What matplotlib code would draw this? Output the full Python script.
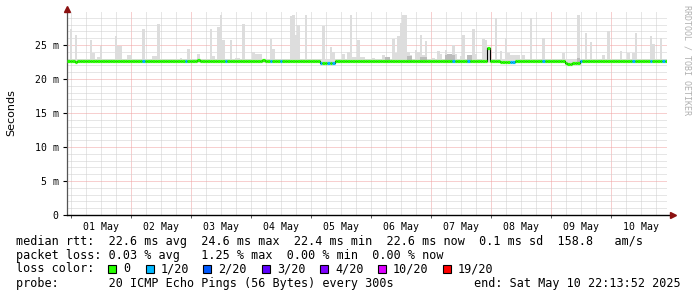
import numpy as np
import matplotlib
matplotlib.use('Agg')
from matplotlib import pyplot as plt

# time axis: 240 one-hour bins ending Sat May 10 22:13:52 2025
n_bins = 240
midnight_offset = 1 + 46 / 60 + 8 / 3600  # first midnight (01 May) after start, hours
day_labels = ['01 May', '02 May', '03 May', '04 May', '05 May',
              '06 May', '07 May', '08 May', '09 May', '10 May']

# smoke (max ping per bin), sparse: bins not listed sit at the base value
smoke_base_low = 22.3
smoke_base_high = 22.95
smoke_hours = [1, 3, 9, 10, 12, 13, 19, 20, 21, 24, 25, 30, 34, 35, 36, 45, 48, 52, 57, 58,
               60, 61, 62, 65, 67, 68, 70, 74, 75, 76, 77, 81, 82, 89, 90, 91, 92, 95, 102, 105,
               106, 110, 112, 113, 114, 115, 116, 117, 118, 122, 126, 130, 131, 132, 133, 134, 135, 136, 137, 139,
               140, 141, 142, 143, 146, 148, 149, 151, 152, 154, 155, 157, 158, 160, 162, 163, 166, 167, 168, 171,
               173, 175, 176, 177, 178, 179, 180, 182, 185, 190, 198, 204, 207, 209, 214, 216, 221, 224, 226, 227,
               233, 234, 237]
smoke_tops = [27.4, 26.5, 25.7, 23.9, 23.2, 24.9, 26.3, 24.9, 24.9, 23.5, 23.5, 27.4, 23.4, 23.4, 28.1, 23.1, 24.4, 23.7, 27.4, 23.4,
              27.6, 29.4, 25.7, 25.7, 23.1, 23.1, 28.1, 24.0, 23.7, 23.7, 23.7, 25.9, 24.4, 29.3, 29.4, 26.5, 27.9, 29.4, 27.8, 24.7,
              24.0, 23.7, 24.0, 29.4, 23.2, 23.2, 25.7, 23.2, 23.2, 23.1, 23.5, 25.9, 23.8, 26.3, 28.2, 29.4, 29.4, 24.0, 23.5, 24.3,
              24.0, 26.5, 23.5, 25.6, 23.1, 24.1, 23.7, 24.3, 23.7, 25.0, 23.7, 23.4, 26.5, 23.5, 27.4, 23.7, 25.9, 25.7, 24.7, 29.0,
              24.1, 26.0, 23.8, 23.5, 23.5, 23.5, 23.5, 23.5, 29.0, 26.0, 23.8, 29.4, 26.7, 25.4, 23.5, 27.1, 24.1, 23.8, 23.8, 26.8,
              26.3, 25.2, 26.0]

# denser smoke close to the median
dark_hours = [127, 128, 136, 137, 141, 142, 143, 151, 152, 153, 154, 160, 161, 204]
dark_tops = [23.2, 23.2, 23.4, 23.4, 23.3, 23.3, 23.3, 23.6, 23.7, 23.7, 23.5, 23.6, 23.6, 23.1]

# median rtt (ms), sparse deviations from the base value
median_base = 22.6
median_hours = [3, 52, 78, 101, 102, 103, 104, 105, 106, 168,
                173, 174, 175, 176, 177, 178, 199, 200, 201, 202, 203, 204]
median_vals = [22.45, 22.8, 22.8, 22.35, 22.3, 22.3, 22.35, 22.35, 22.4, 24.6,
               22.5, 22.5, 22.5, 22.5, 22.5, 22.5, 22.3, 22.25, 22.25, 22.3, 22.35, 22.4]

# bins with 1/20 packet loss
loss_hours = [30, 47, 63, 81, 85, 101, 104, 106, 154, 160, 177, 178, 190, 205, 226, 233, 238]

loss_labels = ['0', '1/20', '2/20', '3/20', '4/20', '10/20', '19/20']
loss_colors = ['#26ff00', '#00b8ff', '#0059ff', '#5e00ff', '#7e00ff', '#dd00ff', '#ff0000']

legend_lines = [
    'median rtt:  22.6 ms avg  24.6 ms max  22.4 ms min  22.6 ms now  0.1 ms sd  158.8   am/s',
    'packet loss: 0.03 % avg   1.25 % max  0.00 % min  0.00 % now',
]
probe_text = 'probe:       20 ICMP Echo Pings (56 Bytes) every 300s'
end_text = 'end: Sat May 10 22:13:52 2025'

# build per-bin arrays
hours = np.arange(n_bins)
smoke_hi = np.full(n_bins, smoke_base_high)
smoke_hi[smoke_hours] = smoke_tops
median = np.full(n_bins, median_base)
median[median_hours] = median_vals
colors = [loss_colors[0]] * n_bins
for h in loss_hours:
    colors[h] = loss_colors[1]

W, H = 697, 297
fig = plt.figure(figsize=(W / 100, H / 100), dpi=100)
ymax = 29.8
ax = fig.add_axes([67 / W, 82 / H, 600 / W, (215 - 12.4) / H])
ax.set_xlim(0, n_bins)
ax.set_ylim(0, ymax)

# grid
minor_grey = '#cfcfcf'
major_red = '#f0a0a0'
dots = (0, (1, 1))
for x in np.arange(midnight_offset - 6, n_bins + 1, 6):
    if x <= 0:
        continue
    is_day = abs((x - midnight_offset) % 24) < 1e-6
    ax.axvline(x, color=major_red if is_day else minor_grey, lw=0.72, ls=dots, zorder=0)
for y in range(1, 30):
    ax.axhline(y, color=major_red if y % 5 == 0 else minor_grey, lw=0.72, ls=dots, zorder=0)

# smoke
ax.bar(hours, smoke_hi - smoke_base_low, bottom=smoke_base_low, width=1, align='edge',
       color='#dddddd', linewidth=0, zorder=1)
ax.bar(dark_hours, np.array(dark_tops) - smoke_base_low, bottom=smoke_base_low, width=1,
       align='edge', color='#bcbcbc', linewidth=0, zorder=1)

# median line coloured by loss
ax.step(np.append(hours, n_bins), np.append(median, median[-1]), where='post',
        color='black', lw=0.8, zorder=2)
ax.hlines(median, hours, hours + 1, colors=colors, linewidth=2.3, capstyle='butt', zorder=3)

# axes styling
for s in ['top', 'right']:
    ax.spines[s].set_visible(False)
ax.spines['left'].set_color('#555555')
ax.spines['left'].set_linewidth(0.9)
ax.spines['bottom'].set_color('black')
ax.spines['bottom'].set_linewidth(1.0)
ax.spines['bottom'].set_bounds(0, n_bins + 1.2)
ax.plot([0], [ymax + 0.55], marker='^', color='#8b1010', markersize=4.5, clip_on=False, zorder=5)
ax.plot([n_bins + 2.2], [0], marker='>', color='#8b1010', markersize=4.5, clip_on=False, zorder=5)

mono = 'DejaVu Sans Mono'
ax.set_yticks([0, 5, 10, 15, 20, 25])
ax.set_yticklabels(['0', '5 m', '10 m', '15 m', '20 m', '25 m'], family=mono, fontsize=7.1)
ax.tick_params(axis='y', length=3, width=0.8, pad=3, colors='black')
ax.set_xticks([midnight_offset + 12 + 24 * i for i in range(len(day_labels))])
ax.set_xticklabels(day_labels, family=mono, fontsize=7.1)
ax.tick_params(axis='x', length=0, pad=5)
ax.set_xticks([midnight_offset + 24 * i for i in range(len(day_labels))], minor=True)
ax.tick_params(axis='x', which='minor', length=2, width=0.7, color='#555555')

fig.text(11 / W, 1 - 113 / H, 'Seconds', rotation=90, ha='center', va='center',
         family='DejaVu Sans', fontsize=8)
fig.text(687 / W, 1 - 60 / H, 'RRDTOOL / TOBI OETIKER', rotation=270, ha='center',
         va='center', family=mono, fontsize=6, color='#b0b0b0')

# legend block
fig.text(16 / W, 1 - 241 / H, legend_lines[0], family=mono, fontsize=8.5, va='center')
fig.text(16 / W, 1 - 255 / H, legend_lines[1], family=mono, fontsize=8.5, va='center')
fig.text(16 / W, 1 - 269 / H, 'loss color:', family=mono, fontsize=8.5, va='center')
box_x = [108, 146, 203, 262, 320, 378, 443]
for bx, lab, col in zip(box_x, loss_labels, loss_colors):
    fig.patches.append(plt.Rectangle((bx / W, 1 - 273 / H), 8 / W, 8 / H, transform=fig.transFigure,
                                     facecolor=col, edgecolor='black', linewidth=0.8))
    fig.text((bx + 15) / W, 1 - 269 / H, lab, family=mono, fontsize=8.5, va='center')
fig.text(16 / W, 1 - 283 / H, probe_text, family=mono, fontsize=8.5, va='center')
fig.text(681 / W, 1 - 283 / H, end_text, family=mono, fontsize=8.5, va='center', ha='right')

fig.savefig('out.png', dpi=100)
